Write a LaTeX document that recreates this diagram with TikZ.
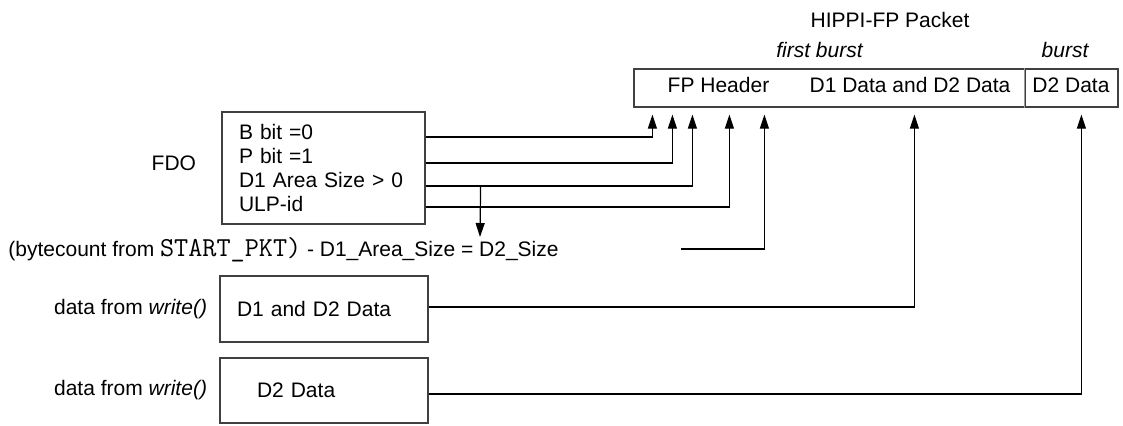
\documentclass[tikz,border=0pt]{standalone}
\usepackage{fontspec}
\setmainfont{Liberation Sans}
\usepackage{xcolor}
\definecolor{edge}{HTML}{404040}
\definecolor{divider}{HTML}{9A9A9A}
\usepackage{tikz}
\usetikzlibrary{arrows.meta,positioning,calc}

\begin{document}
\begin{tikzpicture}[
  x=0.5pt, y=-0.5pt,
  every node/.style={font=\fontsize{10.5}{11.85}\selectfont, inner sep=0pt},
  txt/.style={anchor=base},
  burstlbl/.style={anchor=base, font=\fontsize{10.5}{12}\selectfont\itshape},
  pktbox/.style={
    rectangle, draw=edge, line width=0.6pt, minimum height=19pt
  },
  fdobox/.style={
    rectangle, draw=edge, line width=0.6pt, align=left,
    text width=84.5pt, inner xsep=8.5pt, minimum height=56pt
  },
  databox/.style={
    rectangle, draw=edge, line width=0.6pt, align=left,
    minimum height=33pt
  },
  arr/.style={-{Triangle[length=7pt,width=4.5pt]}, line width=0.6pt}
]
\useasboundingbox (0,0) rectangle (1123,425);

% HIPPI-FP packet
\node[pktbox, minimum width=195.5pt] (pkt) at (829.5,88) {};
\node[pktbox, minimum width=46.5pt] (pktd2) at (1071.5,88) {};
\draw[divider, line width=0.6pt] (pktd2.north west) -- (pktd2.south west);
\node[txt] (hdr) at (718.5,92) {FP Header};
\node[txt] (body) at (910,92) {D1 Data and D2 Data};
\node[txt] (d2txt) at (1071,92) {D2 Data};
\node[txt] (title) at (890,27) {HIPPI-FP Packet};
\node[burstlbl] (first) at (819.5,57) {first burst};
\node[burstlbl] (burst) at (1065,57) {burst};

% FDO
\node[fdobox] (fdo) at (323.5,168) {B bit =0\\P bit =1\\D1 Area Size > 0\\ULP-id};
\node[left=12.5pt of fdo, yshift=2.5pt] (fdolbl) {FDO};

% Data from write()
\node[databox, text width=87pt, inner xsep=8.5pt] (d1) at (324,309) {D1 and D2 Data};
\node[databox, text width=67pt, inner xsep=18.5pt, minimum height=32.5pt] (d2) at (324,390.5) {D2 Data};
\node[left=6pt of d1] (w1) {data from \textit{write()}};
\node[left=6pt of d2] (w2) {data from \textit{write()}};

% Size computation
\node[anchor=base west] (eq) at (8,256) {(bytecount from \texttt{\fontsize{13.7}{13.7}\selectfont START\_PKT)} - D1\_Area\_Size = D2\_Size};

% Arrows
\foreach \dy/\dx in {-31/19, -5/39, 18/59, 39/96}
  \draw[arr] ($(fdo.east)+(0,\dy)$) -| ($(pkt.south west)+(\dx,7)$);

\coordinate (split) at ($(fdo.east)+(55,18)$);
\coordinate (eqtip) at (480,237);
\draw[arr] (split) -- (eqtip);

\coordinate (cnt) at (681,249);
\draw[arr] (cnt) -| ($(pkt.south west)+(131,7)$);

\draw[arr] ($(d1.east)+(0,-2)$) -| ($(pkt.south west)+(281,7)$);
\draw[arr] ($(d2.east)+(0,3.5)$) -| ($(pktd2.south west)+(57,7)$);
\end{tikzpicture}
\end{document}
